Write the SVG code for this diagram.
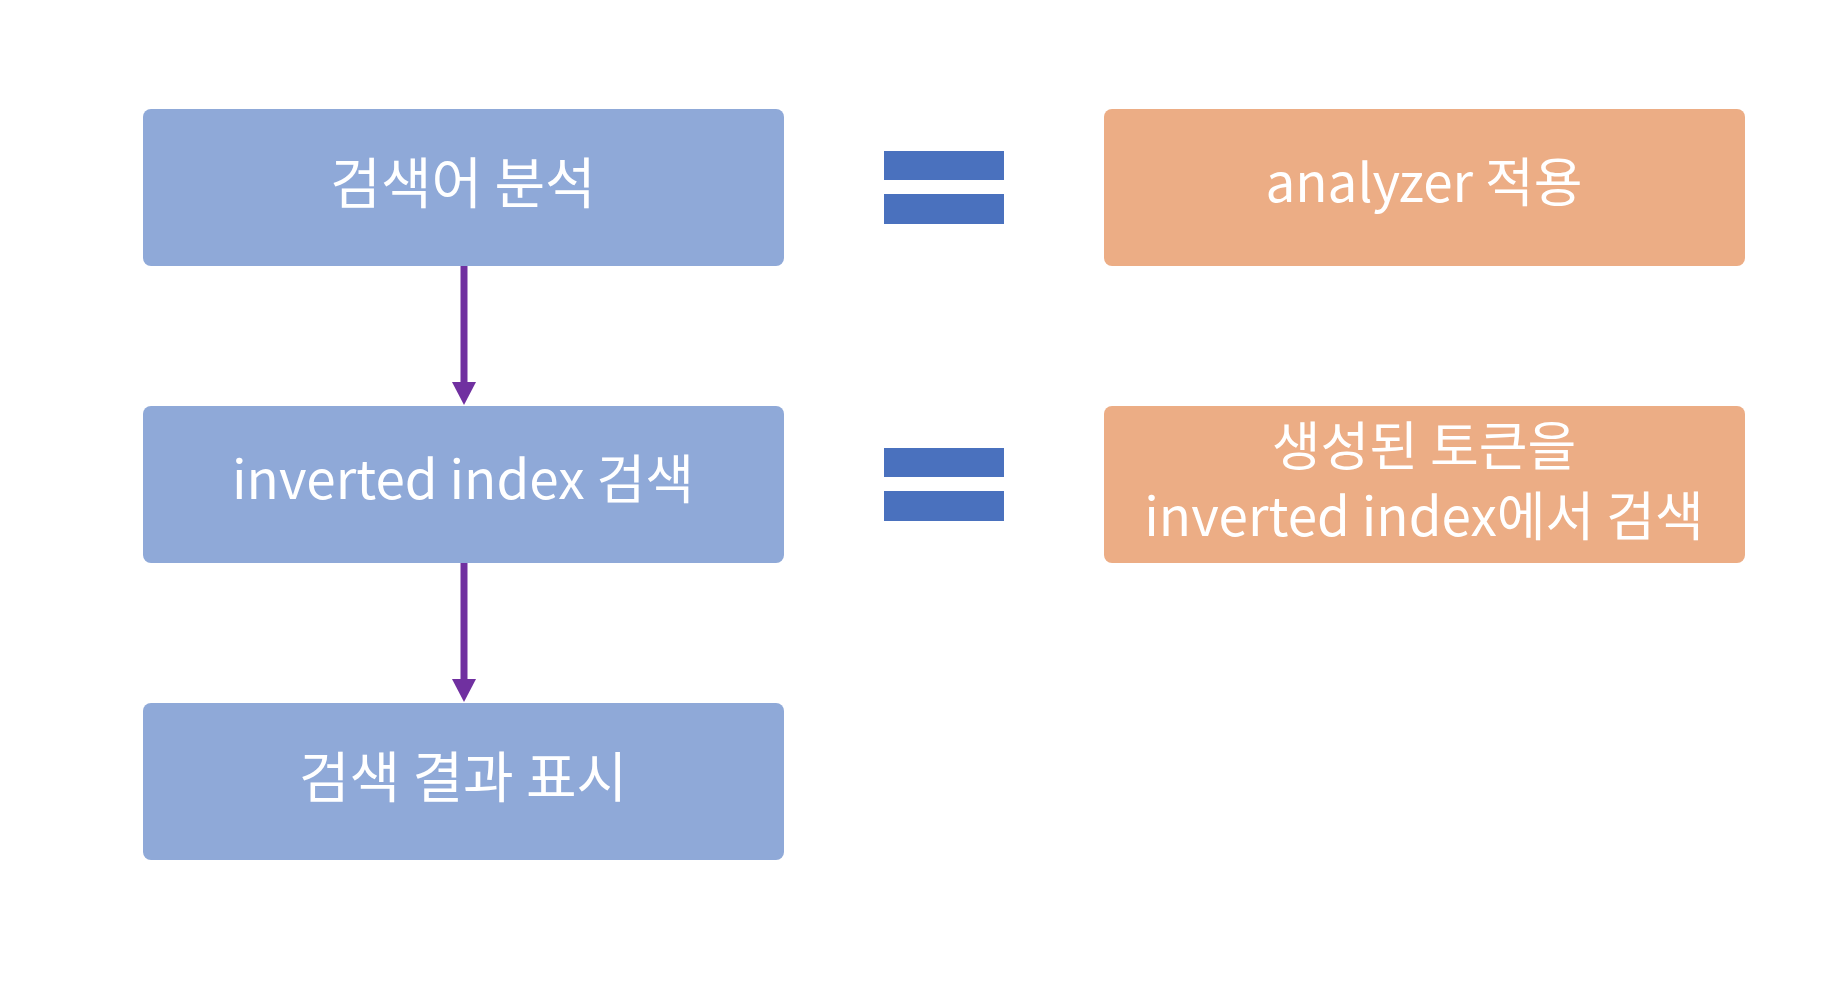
<svg xmlns="http://www.w3.org/2000/svg" width="1833" height="989" viewBox="0 0 1833 989">
<defs>
<style>
.blue{fill:#8FA9D8;}
.orange{fill:#ECAD85;}
.eq{fill:#4A71BE;}
.t{font-family:"Noto Sans CJK KR","Noto Sans",sans-serif;font-size:53px;fill:#ffffff;text-anchor:middle;dominant-baseline:central;}
.k{font-size:55px;}
.conn{stroke:#7030A0;stroke-width:7;fill:none;}
</style>
</defs>
<rect width="1833" height="989" fill="#ffffff"/>
<g id="node-analyze">
<rect class="blue" x="143" y="109" width="641" height="157" rx="8"/>
<text class="t k" x="463" y="179">검색어 분석</text>
</g>
<g id="node-search">
<rect class="blue" x="143" y="406" width="641" height="157" rx="8"/>
<text class="t" x="463" y="476">inverted index 검색</text>
</g>
<g id="node-result">
<rect class="blue" x="143" y="703" width="641" height="157" rx="8"/>
<text class="t k" x="463" y="773">검색 결과 표시</text>
</g>
<g id="eq1">
<rect class="eq" x="884" y="151" width="120" height="29"/>
<rect class="eq" x="884" y="194" width="120" height="30"/>
</g>
<g id="eq2">
<rect class="eq" x="884" y="448" width="120" height="29"/>
<rect class="eq" x="884" y="491" width="120" height="30"/>
</g>
<g id="node-analyzer">
<rect class="orange" x="1104" y="109" width="641" height="157" rx="8"/>
<text class="t" x="1424" y="179">analyzer 적용</text>
</g>
<g id="node-token">
<rect class="orange" x="1104" y="406" width="641" height="157" rx="8"/>
<text class="t" x="1424" y="443">생성된 토큰을</text>
<text class="t" x="1424" y="513">inverted index에서 검색</text>
</g>
<g id="connectors">
<line class="conn" x1="464" y1="266" x2="464" y2="386"/>
<path d="M452,382 L476,382 L464,405 Z" fill="#7030A0"/>
<line class="conn" x1="464" y1="563" x2="464" y2="683"/>
<path d="M452,679 L476,679 L464,702 Z" fill="#7030A0"/>
</g>
</svg>
